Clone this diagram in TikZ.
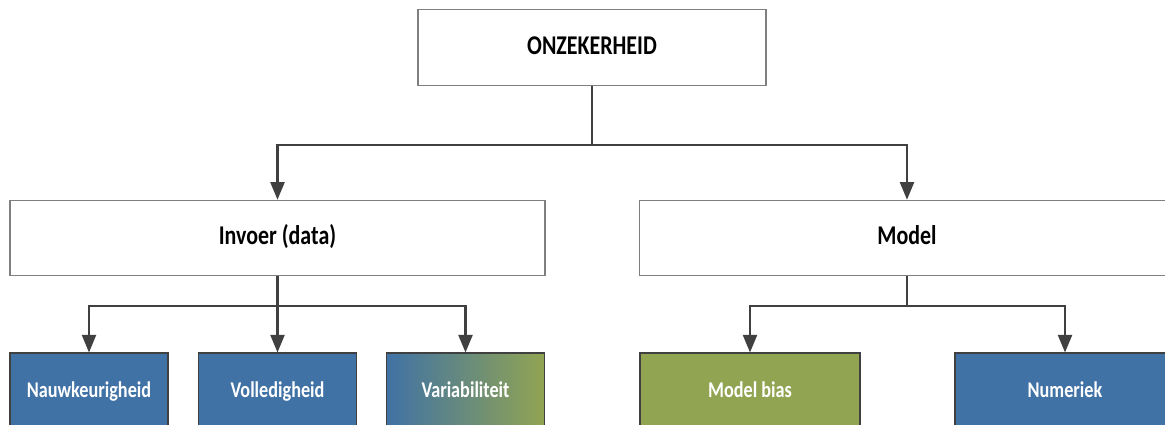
\documentclass[tikz,border=0pt]{standalone}
\usepackage{fontspec}
\setmainfont{Carlito}[FakeStretch=0.81]
\usepackage{xcolor}
\usepackage{tikz}
\usetikzlibrary{arrows.meta, positioning}
\definecolor{boxblue}{RGB}{64, 114, 165}
\definecolor{boxgreen}{RGB}{145, 164, 82}
\definecolor{linegray}{RGB}{64, 64, 64}
\definecolor{edgegray}{RGB}{127, 127, 127}

\begin{document}
\begin{tikzpicture}[
    head/.style={draw=edgegray, line width=0.6pt, fill=white, minimum height=1.51cm,
                 inner sep=0pt, text height=2ex, text depth=0.4ex,
                 font=\fontsize{15.4}{18}\selectfont\bfseries},
    leaf/.style={draw=linegray, line width=0.6pt, fill=boxblue, text=white,
                 minimum width=3.16cm, minimum height=1.52cm, inner sep=0pt,
                 text height=2ex, text depth=0.4ex,
                 font=\fontsize{12.8}{15}\selectfont\bfseries},
    conn/.style={draw=linegray, line width=1.15pt, -{Triangle[length=0.35cm, width=0.28cm]}}
]
    \clip (0,0) rectangle (23.3,8.5);
    \fill[white] (0,0) rectangle (23.3,8.5);

    % top level
    \node[head, minimum width=6.96cm] (onzekerheid) at (11.84,7.55) {ONZEKERHEID};
    \node[head, minimum width=10.7cm] (invoer) at (5.55,3.74) {Invoer (data)};
    \node[head, minimum width=10.7cm] (model) at (18.14,3.74) {Model};

    % sources
    \node[leaf] (nauwkeurigheid) at (1.78,0.68) {Nauwkeurigheid};
    \node[leaf] (volledigheid) at (5.55,0.68) {Volledigheid};
    \node[leaf, left color=boxblue, right color=boxgreen] (variabiliteit) at (9.31,0.68) {Variabiliteit};
    \node[leaf, minimum width=4.4cm, fill=boxgreen] (modelbias) at (15.0,0.68) {Model bias};
    \node[leaf, minimum width=4.4cm] (numeriek) at (21.3,0.68) {Numeriek};

    % connectors
    \draw[conn] (onzekerheid.south) -- ++(0,-1.18) -| (invoer.north);
    \draw[conn] (onzekerheid.south) -- ++(0,-1.18) -| (model.north);
    \draw[conn] (invoer.south) -- ++(0,-0.6) -| (nauwkeurigheid.north);
    \draw[conn] (invoer.south) -- (volledigheid.north);
    \draw[conn] (invoer.south) -- ++(0,-0.6) -| (variabiliteit.north);
    \draw[conn] (model.south) -- ++(0,-0.6) -| (modelbias.north);
    \draw[conn] (model.south) -- ++(0,-0.6) -| (numeriek.north);
\end{tikzpicture}
\end{document}
